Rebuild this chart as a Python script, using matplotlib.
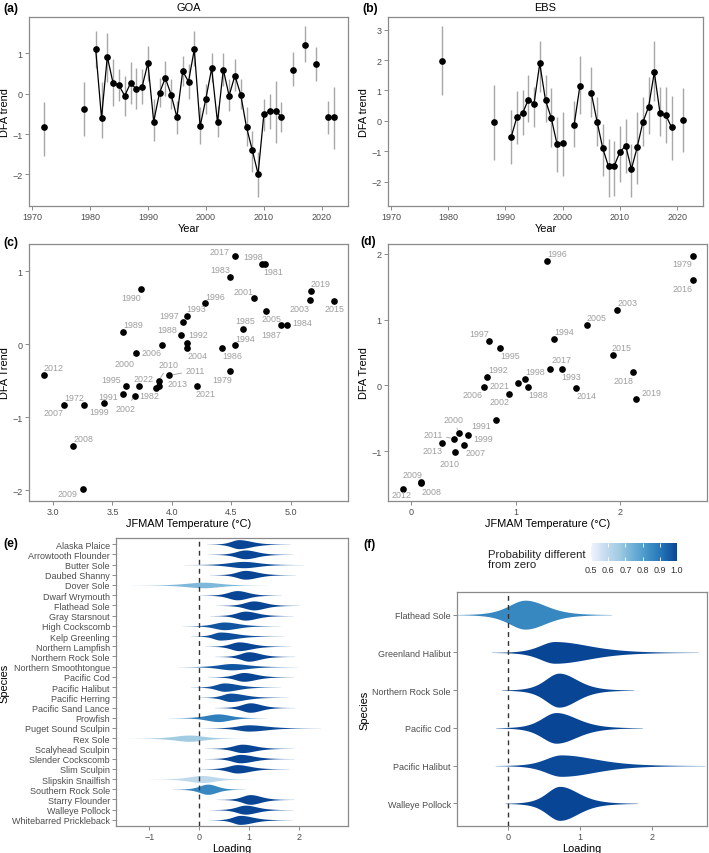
import numpy as np
import matplotlib
matplotlib.use("Agg")
import matplotlib.pyplot as plt
from matplotlib.colors import LinearSegmentedColormap, Normalize
from matplotlib.colorbar import ColorbarBase

plt.rcParams['font.family'] = ['Liberation Sans', 'DejaVu Sans']

# ---- GOA DFA trend (panel a / c) ----
goa_years = [1972, 1979, 1981, 1982, 1983, 1984, 1985, 1986, 1987, 1988, 1989, 1990,
             1991, 1992, 1993, 1994, 1995, 1996, 1997, 1998, 1999, 2000, 2001, 2002,
             2003, 2004, 2005, 2006, 2007, 2008, 2009, 2010, 2011, 2012, 2013, 2015,
             2017, 2019, 2021, 2022]
goa_trend = [-0.83, -0.37, 1.10, -0.60, 0.92, 0.26, 0.21, -0.05, 0.26, 0.12, 0.17, 0.76,
             -0.69, 0.02, 0.39, -0.02, -0.58, 0.56, 0.30, 1.10, -0.81, -0.12, 0.63, -0.71,
             0.60, -0.05, 0.45, -0.02, -0.83, -1.40, -1.99, -0.50, -0.43, -0.42, -0.57, 0.59,
             1.21, 0.73, -0.57, -0.57]
goa_lo = [-1.54, -1.04, 0.65, -1.10, 0.28, -0.30, -0.17, -0.55, -0.26, -0.38, -0.26, 0.32,
          -1.17, -0.34, -0.05, -0.38, -1.00, 0.20, -0.13, 0.69, -1.25, -0.50, 0.28, -1.08,
          0.20, -0.42, 0.07, -0.38, -1.29, -1.95, -2.57, -0.92, -0.88, -1.21, -0.96, 0.18,
          0.79, 0.32, -1.00, -1.37]
goa_hi = [-0.21, 0.29, 1.56, 0.30, 1.50, 0.86, 0.61, 0.45, 0.78, 0.65, 0.61, 1.19,
          -0.13, 0.40, 0.82, 0.36, -0.17, 0.94, 0.74, 1.56, -0.34, 0.24, 1.02, -0.30,
          1.02, 0.36, 0.86, 0.36, -0.34, -0.92, -1.45, -0.13, -0.01, 0.32, -0.21, 1.04,
          1.69, 1.17, -0.17, 0.16]
goa_temp = [3.26, 4.49, 4.78, 3.87, 4.49, 4.97, 4.60, 4.42, 4.92, 4.08, 3.59, 3.74,
            3.59, 4.13, 4.13, 4.53, 3.61, 4.28, 4.09, 4.76, 3.43, 3.70, 4.69, 3.69,
            5.16, 4.13, 4.79, 3.92, 3.09, 3.17, 3.25, 3.89, 3.98, 2.92, 3.89, 5.36,
            4.53, 5.17, 4.21, 3.72]

# ---- EBS DFA trend (panel b / d) ----
ebs_years = [1979, 1988, 1991, 1992, 1993, 1994, 1995, 1996, 1997, 1998, 1999, 2000,
             2002, 2003, 2005, 2006, 2007, 2008, 2009, 2010, 2011, 2012, 2013, 2014,
             2015, 2016, 2017, 2018, 2019, 2021]
ebs_trend = [1.97, -0.02, -0.53, 0.12, 0.25, 0.70, 0.57, 1.89, 0.68, 0.10, -0.75, -0.72,
             -0.13, 1.14, 0.91, -0.02, -0.90, -1.49, -1.47, -1.02, -0.81, -1.58, -0.87, -0.04,
             0.46, 1.60, 0.25, 0.20, -0.21, 0.04]
ebs_lo = [0.85, -1.27, -1.41, -0.77, -0.46, -0.04, -0.19, 0.94, -0.04, -0.84, -1.69, -1.80,
          -0.84, 0.23, 0.12, -0.81, -1.80, -2.51, -2.45, -2.02, -1.71, -2.51, -2.07, -0.81,
          -0.43, 0.67, -0.50, -0.72, -1.29, -1.03]
ebs_hi = [3.13, 1.18, 0.36, 0.99, 1.03, 1.51, 1.11, 2.64, 1.51, 1.07, 0.12, 0.28,
          0.67, 2.12, 1.76, 0.77, -0.10, -0.59, -0.67, -0.18, 0.07, -0.76, 0.28, 0.77,
          1.43, 2.62, 1.11, 1.11, 0.83, 1.07]
ebs_temp = [2.69, 1.12, 0.81, 0.73, 1.44, 1.37, 0.85, 1.30, 0.75, 1.09, 0.55, 0.46,
            0.94, 1.97, 1.68, 0.70, 0.51, 0.10, 0.10, 0.42, 0.41, -0.08, 0.30, 1.58,
            1.93, 2.69, 1.33, 2.12, 2.15, 1.02]

# ---- species loadings (panel e: GOA, panel f: EBS) ----
goa_species = ["Alaska Plaice", "Arrowtooth Flounder", "Butter Sole", "Daubed Shanny",
               "Dover Sole", "Dwarf Wrymouth", "Flathead Sole", "Gray Starsnout",
               "High Cockscomb", "Kelp Greenling", "Northern Lampfish", "Northern Rock Sole",
               "Northern Smoothtongue", "Pacific Cod", "Pacific Halibut", "Pacific Herring",
               "Pacific Sand Lance", "Prowfish", "Puget Sound Sculpin", "Rex Sole",
               "Scalyhead Sculpin", "Slender Cockscomb", "Slim Sculpin", "Slipskin Snailfish",
               "Southern Rock Sole", "Starry Flounder", "Walleye Pollock",
               "Whitebarred Prickleback"]
goa_mode = [0.79, 0.92, 0.89, 0.92, 0.09, 0.76, 1.09, 0.92, 0.50, 0.42, 0.79, 0.99,
            0.65, 0.89, 0.50, 0.62, 1.02, 0.38, 0.99, -0.20, 0.86, 0.82, 0.76, 0.05,
            0.17, 1.02, 0.92, 0.82]
goa_sd_lo = [0.16, 0.19, 0.30, 0.18, 0.36, 0.19, 0.19, 0.18, 0.21, 0.15, 0.17, 0.17,
             0.27, 0.18, 0.17, 0.16, 0.18, 0.25, 0.24, 0.31, 0.19, 0.18, 0.19, 0.27,
             0.18, 0.17, 0.18, 0.16]
goa_sd_hi = [0.26, 0.24, 0.30, 0.25, 0.32, 0.22, 0.23, 0.24, 0.28, 0.32, 0.26, 0.23,
             0.33, 0.25, 0.28, 0.29, 0.22, 0.24, 0.36, 0.29, 0.26, 0.27, 0.26, 0.27,
             0.19, 0.22, 0.24, 0.26]
goa_prob = [1.0, 1.0, 0.99, 1.0, 0.72, 1.0, 1.0, 1.0, 0.97, 0.98, 1.0, 1.0,
            0.97, 1.0, 0.98, 0.98, 1.0, 0.88, 0.99, 0.66, 1.0, 1.0, 1.0, 0.60,
            0.86, 1.0, 1.0, 1.0]

ebs_species = ["Flathead Sole", "Greenland Halibut", "Northern Rock Sole", "Pacific Cod",
               "Pacific Halibut", "Walleye Pollock"]
ebs_mode = [0.24, 0.65, 0.71, 0.67, 0.74, 0.72]
ebs_sd_lo = [0.24, 0.22, 0.20, 0.21, 0.23, 0.19]
ebs_sd_hi = [0.30, 0.50, 0.26, 0.30, 0.50, 0.27]
ebs_prob = [0.86, 1.0, 1.0, 1.0, 0.99, 1.0]

# label offsets for the year text (pixels, x right / y down) and which get leader lines
goa_lab = {2017: (-15, -4), 1998: (-9, -7), 1981: (9, 8), 1983: (-10, -7), 2019: (10, -7),
           1990: (-10, 9), 1996: (10, -7), 2001: (-10, -7), 2003: (-10, 8), 2015: (1, 8),
           1993: (9, -7), 1997: (-13, -7), 2005: (6, 7), 1985: (2, -8), 1984: (15, -3),
           1987: (-10, 9), 1989: (10, -7), 1988: (-14, -6), 1992: (11, -8), 2004: (10, 8),
           1994: (10, -7), 1986: (10, 8), 2006: (-11, 7), 2000: (-12, 11), 2012: (10, -7),
           2010: (10, -16), 2011: (26, -5), 1995: (-14, -7), 2022: (5, -7), 2013: (19, -2),
           1979: (-8, 8), 2021: (9, 8), 1972: (-10, -7), 1991: (-15, 2), 1982: (-7, 8),
           2007: (-10, 8), 1999: (-5, 8), 2002: (-10, 13), 2008: (10, -8), 2009: (-15, 4)}
goa_leader = [2000, 2002, 2010, 2011]
ebs_lab = {1996: (10, -7), 1979: (-10, 8), 2016: (-10, 8), 2003: (10, -8), 2005: (10, -8),
           1994: (10, -8), 1997: (-10, -7), 1995: (10, 8), 2015: (9, -8), 2017: (11, -9),
           1992: (11, -8), 1998: (10, -7), 1993: (10, 8), 2018: (-9, 8), 2021: (-18, 3),
           2006: (-12, 8), 1988: (10, 8), 2002: (-10, 8), 2014: (10, 8), 2019: (15, -7),
           1991: (-14, 5), 2000: (-6, -13), 2011: (-21, -4), 1999: (15, 4), 2013: (-10, 8),
           2007: (11, 8), 2010: (-5, 11), 2009: (-9, -8), 2012: (-1, 5), 2008: (10, 8)}
ebs_leader = [2000, 2011]

W, H = 709, 854
fig = plt.figure(figsize=(W / 100, H / 100), dpi=100)

FRAME = '#8a8a8a'
TICKC = '#4d4d4d'
LABC = '#9e9e9e'


def px_axes(l, t, r, b):
    return fig.add_axes([l / W, 1 - b / H, (r - l) / W, (b - t) / H])


def style(ax):
    for s in ax.spines.values():
        s.set_color(FRAME)
        s.set_linewidth(0.9)
    ax.tick_params(length=3, width=0.7, color=FRAME, labelsize=6.5, labelcolor=TICKC, pad=1.5)


def pad_lim(lo, hi, f=0.05):
    r = hi - lo
    return lo - f * r, hi + f * r


def trend_panel(ax, years, trend, lo, hi, title):
    years = np.array(years)
    trend = np.array(trend)
    ax.vlines(years, lo, hi, color='#a8a8a8', lw=1.0, zorder=1)
    # connect only consecutive years
    breaks = np.where(np.diff(years) != 1)[0] + 1
    for yr, tr in zip(np.split(years, breaks), np.split(trend, breaks)):
        if len(yr) > 1:
            ax.plot(yr, tr, color='black', lw=0.9, zorder=2)
    ax.plot(years, trend, 'o', color='black', ms=3.8, zorder=3)
    ax.set_xlim(1969.5, 2024.5)
    ax.set_xticks([1970, 1980, 1990, 2000, 2010, 2020])
    ax.set_ylim(*pad_lim(min(lo), max(hi)))
    ax.set_xlabel('Year', fontsize=7.9, labelpad=1)
    ax.set_ylabel('DFA trend', fontsize=7.9, labelpad=2)
    ax.set_title(title, fontsize=7.9, pad=5)
    style(ax)


def scatter_panel(ax, temp, trend, years, labs, leaders):
    ax.plot(temp, trend, 'o', color='black', ms=3.8, zorder=3)
    for x, y, yr in zip(temp, trend, years):
        dx, dy = labs[yr]
        ap = None
        if yr in leaders:
            ap = dict(arrowstyle='-', color=LABC, lw=0.6, shrinkA=1, shrinkB=2.5)
        ax.annotate(str(yr), (x, y), xytext=(dx * 0.72, -dy * 0.72), textcoords='offset points',
                    ha='center', va='center', fontsize=6.4, color=LABC, arrowprops=ap)
    ax.set_xlim(*pad_lim(min(temp), max(temp)))
    ax.set_ylim(*pad_lim(min(trend), max(trend)))
    ax.set_xlabel('JFMAM Temperature (°C)', fontsize=7.9, labelpad=1)
    ax.set_ylabel('DFA Trend', fontsize=7.9, labelpad=2)
    style(ax)


blues = ["#EFF3FF", "#C6DBEF", "#9ECAE1", "#6BAED6", "#4292C6", "#2171B5", "#084594"]
cmap = LinearSegmentedColormap.from_list('bl', blues)
norm = Normalize(0.5, 1.0)


def violin_panel(ax, species, mode, sdl, sdr, prob, xlim, half=0.45):
    n = len(species)
    shapes = []
    for m, sl, sr in zip(mode, sdl, sdr):
        x = np.linspace(m - 4 * sl, m + 4 * sr, 600)
        z = np.where(x < m, (x - m) / sl, (x - m) / sr)
        d = (1 + z ** 2 / 6) ** -3.5
        d = d / np.trapezoid(d, x)
        shapes.append((x, d))
    scale = half / max(d.max() for _, d in shapes)
    for i, ((x, d), p) in enumerate(zip(shapes, prob)):
        ax.fill_between(x, i - d * scale, i + d * scale, color=cmap(norm(p)), lw=0, zorder=2)
    ax.axvline(0, color='#333333', lw=1.0, ls=(0, (3.5, 3)), zorder=3)
    ax.set_yticks(range(n))
    ax.set_yticklabels(species)
    ax.set_ylim(n - 1 + 0.6, -0.6)
    ax.set_xlim(*xlim)
    ax.set_xlabel('Loading', fontsize=7.9, labelpad=1)
    ax.set_ylabel('Species', fontsize=7.9, labelpad=2)
    style(ax)


ax_a = px_axes(29, 18, 348, 207)
trend_panel(ax_a, goa_years, goa_trend, goa_lo, goa_hi, 'GOA')
ax_b = px_axes(388, 18, 703, 207)
trend_panel(ax_b, ebs_years, ebs_trend, ebs_lo, ebs_hi, 'EBS')

ax_c = px_axes(29, 245, 348, 502)
scatter_panel(ax_c, goa_temp, goa_trend, goa_years, goa_lab, goa_leader)
ax_c.set_xticks([3.0, 3.5, 4.0, 4.5, 5.0])
ax_c.set_xticklabels(['3.0', '3.5', '4.0', '4.5', '5.0'])
ax_c.set_yticks([-2, -1, 0, 1])
ax_d = px_axes(388, 245, 707, 502)
scatter_panel(ax_d, ebs_temp, ebs_trend, ebs_years, ebs_lab, ebs_leader)
ax_d.set_xticks([0, 1, 2])
ax_d.set_yticks([-1, 0, 1, 2])

ax_e = px_axes(116, 539, 348, 827)
violin_panel(ax_e, goa_species, goa_mode, goa_sd_lo, goa_sd_hi, goa_prob, (-1.67, 2.98), half=0.5)
ax_e.set_xticks([-1, 0, 1, 2])
ax_f = px_axes(457, 593, 707, 827)
violin_panel(ax_f, ebs_species, ebs_mode, ebs_sd_lo, ebs_sd_hi, ebs_prob, (-0.71, 2.77))
ax_f.set_xticks([0, 1, 2])

# colour bar legend
cax = px_axes(591, 544, 677, 562)
cb = ColorbarBase(cax, cmap=cmap, norm=norm, orientation='horizontal',
                  ticks=[0.5, 0.6, 0.7, 0.8, 0.9, 1.0])
cb.outline.set_visible(False)
cax.tick_params(direction='in', length=3, width=0.6, color='white', labelsize=6.5,
                labelcolor='#333333', pad=3, top=True)
fig.text(488 / W, 1 - 560 / H, 'Probability different\nfrom zero', fontsize=8.2,
         ha='left', va='center', linespacing=1.05, color='#222222')

# panel tags
for lab, x, y in [('(a)', 3, 9), ('(b)', 362, 9), ('(c)', 3, 243), ('(d)', 360, 242),
                  ('(e)', 3, 544), ('(f)', 363, 545)]:
    fig.text(x / W, 1 - y / H, lab, fontsize=8.8, fontweight='bold', ha='left', va='center')

fig.savefig('out.png', dpi=100)
